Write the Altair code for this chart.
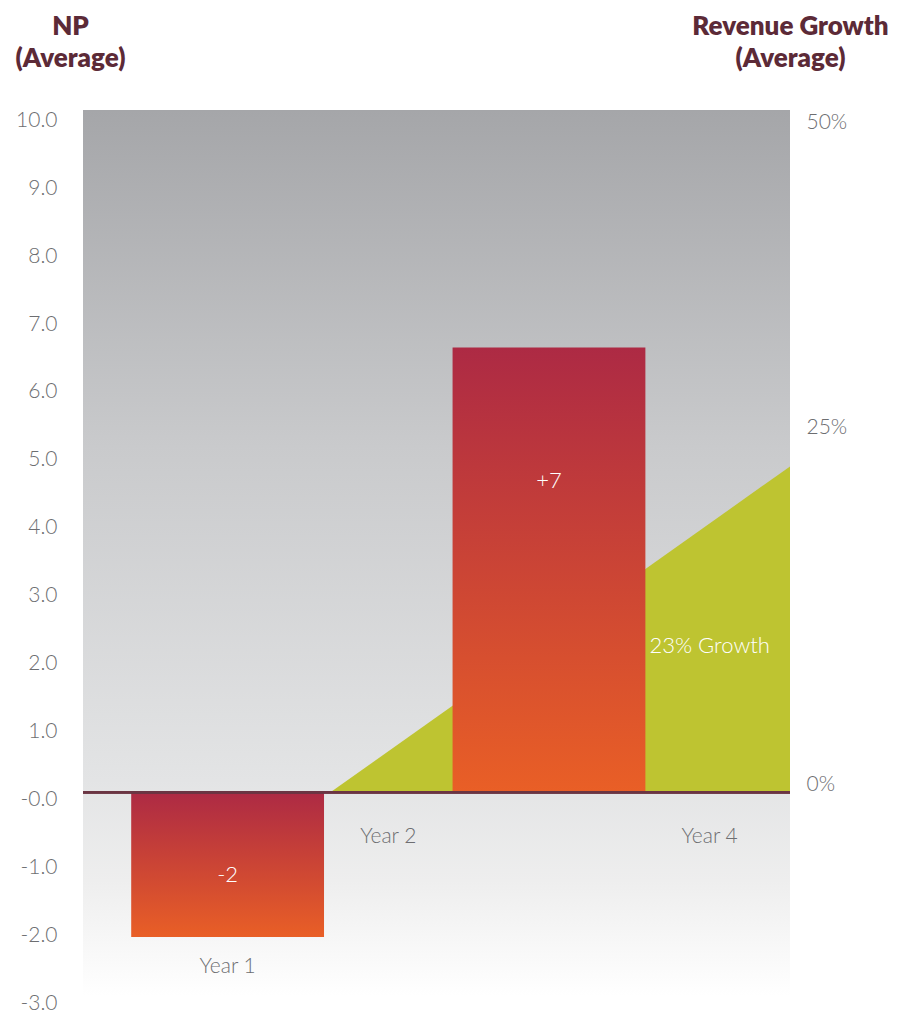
import altair as alt
import pandas as pd

# ---- data ----
years = ["Year 1", "Year 2", "Year 3", "Year 4"]
np_average = [-2.13, None, 6.55, None]
bar_labels = ["-2", None, "+7", None]
year_label_shown = [True, True, False, True]
growth_year = [1.64, 4.5]          # x position along the year axis
growth_pct = [0.0, 24.0]           # revenue growth (%)
growth_label = "23% Growth"
np_ticks = list(range(-3, 11))
growth_ticks = [0, 25, 50]

x_domain = [0.1, 4.5]
np_domain = [-3, 10.05]
pct_domain = [v * 5 for v in np_domain]

df = pd.DataFrame({
    "year": years,
    "idx": list(range(1, len(years) + 1)),
    "np": np_average,
    "label": bar_labels,
    "shown": year_label_shown,
})
gdf = pd.DataFrame({"gx": growth_year, "gp": growth_pct})
gtext = pd.DataFrame({"gx": [len(years)], "gp": [growth_pct[-1] * 0.45], "label": [growth_label]})
bgdf = pd.DataFrame({"x0": [x_domain[0]], "x1": [x_domain[1]], "y0": [np_domain[0]], "y1": [np_domain[1]]})

X = alt.Scale(domain=x_domain, nice=False, zero=False)
YL = alt.Scale(domain=np_domain, nice=False, zero=False)
YR = alt.Scale(domain=pct_domain, nice=False, zero=False)

FONT = "Lato"
TITLE_COLOR = "#5c2a37"
LABEL_COLOR = "#6d6e71"

bg_grad = alt.Gradient(
    gradient="linear", x1=0, x2=0, y1=0, y2=1,
    stops=[
        alt.GradientStop(color="#a5a6a9", offset=0),
        alt.GradientStop(color="#c9cacc", offset=0.38),
        alt.GradientStop(color="#e3e4e5", offset=0.756),
        alt.GradientStop(color="#eeeeee", offset=0.87),
        alt.GradientStop(color="#ffffff", offset=1),
    ],
)
bar_grad = alt.Gradient(
    gradient="linear", x1=0, x2=0, y1=0, y2=1,
    stops=[
        alt.GradientStop(color="#ad2a44", offset=0),
        alt.GradientStop(color="#e95f26", offset=1),
    ],
)

left_axis = alt.Axis(
    orient="left", values=np_ticks,
    labelExpr="(datum.value <= 0 ? '-' : '') + format(abs(datum.value), '.1f')",
    title=["NP", "(Average)"], titleAngle=0, titleX=-13, titleY=-97,
    titleAlign="center", titleBaseline="top", titleFont=FONT, titleFontSize=26,
    titleFontWeight=800, titleColor=TITLE_COLOR, titleLineHeight=32,
    labelFont=FONT, labelFontWeight=300, labelFontSize=21, labelColor=LABEL_COLOR,
    labelPadding=26, labelOffset=7, labelBaseline="middle", labelAlign="right",
    ticks=False, domain=False, grid=False,
)
right_axis = alt.Axis(
    orient="right", values=growth_ticks,
    labelExpr="datum.value + '%'",
    title=["Revenue Growth", "(Average)"], titleAngle=0, titleX=0, titleY=-97,
    titleAlign="center", titleBaseline="top", titleFont=FONT, titleFontSize=26,
    titleFontWeight=800, titleColor=TITLE_COLOR, titleLineHeight=32,
    labelFont=FONT, labelFontWeight=300, labelFontSize=21, labelColor=LABEL_COLOR,
    labelPadding=16, labelBaseline="middle", labelAlign="left",
    labelOffset={"condition": [{"test": "datum.value == 0", "value": -8},
                               {"test": "datum.value == 25", "value": -25}],
                 "value": 9},
    ticks=False, domain=False, grid=False,
)

bg = alt.Chart(bgdf).mark_rect(color=bg_grad).encode(
    x=alt.X("x0:Q", scale=X, axis=None), x2="x1:Q",
    y=alt.Y("y0:Q", scale=YL, axis=None), y2="y1:Q",
)

area = alt.Chart(gdf).mark_area(color="#bec431").encode(
    x=alt.X("gx:Q", scale=X, axis=None),
    y=alt.Y("gp:Q", scale=YR, axis=right_axis),
)

bars = alt.Chart(df).transform_filter("isValid(datum.np)").transform_calculate(
    x0="datum.idx - 0.6", x1="datum.idx + 0.6", zero="0"
).mark_bar(color=bar_grad).encode(
    x=alt.X("x0:Q", scale=X, axis=None), x2="x1:Q",
    y=alt.Y("np:Q", scale=YL, axis=left_axis), y2="zero:Q",
)

rule = alt.Chart(df).mark_rule(color="#6b3543", strokeWidth=2.5).encode(
    y=alt.Y(datum=0, type="quantitative", scale=YL, axis=None),
)

bar_text = alt.Chart(df).transform_filter("isValid(datum.np)").transform_calculate(
    ty="datum.np > 0 ? datum.np * 0.7 : datum.np * 0.57"
).mark_text(color="white", font=FONT, fontWeight=300, fontSize=22, baseline="middle").encode(
    x=alt.X("idx:Q", scale=X, axis=None),
    y=alt.Y("ty:Q", scale=YL, axis=None),
    text="label:N",
)

year_text = alt.Chart(df).transform_filter("datum.shown").transform_calculate(
    ty="isValid(datum.np) && datum.np < 0 ? datum.np - 0.45 : -0.66"
).mark_text(color=LABEL_COLOR, font=FONT, fontWeight=300, fontSize=21, baseline="middle").encode(
    x=alt.X("idx:Q", scale=X, axis=None),
    y=alt.Y("ty:Q", scale=YL, axis=None),
    text="year:N",
)

growth_text = alt.Chart(gtext).mark_text(color="white", font=FONT, fontWeight=300, fontSize=22, baseline="middle").encode(
    x=alt.X("gx:Q", scale=X, axis=None),
    y=alt.Y("gp:Q", scale=YR, axis=None),
    text="label:N",
)

chart = alt.layer(bg, area, bars, rule, bar_text, year_text, growth_text).resolve_scale(
    y="independent"
).properties(
    width=707, height=886,
    autosize=alt.AutoSizeParams(type="none"),
    padding={"left": 83, "top": 110, "right": 120, "bottom": 16},
    background="white",
).configure_view(stroke=None)

chart.save("out.html", embed_options={"renderer": "svg", "actions": False})
